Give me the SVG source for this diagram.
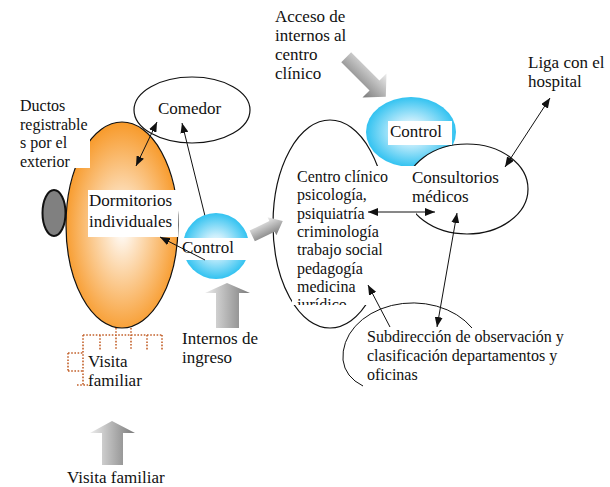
<svg xmlns="http://www.w3.org/2000/svg" width="610" height="487" viewBox="0 0 610 487" font-family="'Liberation Serif', 'DejaVu Serif', serif">
<style>
text{font-family:'Liberation Serif','DejaVu Serif',serif;font-size:17px;fill:#111}
.s16{font-size:16px}
.ln{stroke:#111;stroke-width:1;fill:none}
.ol{stroke:#111;stroke-width:1.2}
.dot{stroke:#c4622c;stroke-width:1.6;fill:none;stroke-dasharray:1.6 1.6}
.wb{fill:#fff}
</style>
<defs>
<marker id="ah" viewBox="0 0 10 8" refX="10" refY="4" markerWidth="10" markerHeight="8" markerUnits="userSpaceOnUse" orient="auto-start-reverse">
<path d="M0,0 L10,4 L0,8 z" fill="#111"/>
</marker>
<radialGradient id="gOr" cx="0.5" cy="0.52" r="0.55">
<stop offset="0" stop-color="#ffffff"/>
<stop offset="0.25" stop-color="#fde3c4"/>
<stop offset="1" stop-color="#f7941e"/>
</radialGradient>
<radialGradient id="gCy" cx="0.5" cy="0.5" r="0.55">
<stop offset="0" stop-color="#ffffff"/>
<stop offset="0.3" stop-color="#c9eefc"/>
<stop offset="1" stop-color="#1cbcef"/>
</radialGradient>
<linearGradient id="gGr" x1="0" y1="0" x2="1" y2="0">
<stop offset="0" stop-color="#ececec"/>
<stop offset="1" stop-color="#7a7a7a"/>
</linearGradient>
<clipPath id="cCentro"><rect x="290" y="160" width="130" height="145"/></clipPath>
</defs>

<!-- Left side -->
<g id="dormitorios">
<ellipse cx="122" cy="225" rx="56" ry="103" fill="url(#gOr)" class="ol"/>
</g>
<g id="ductos-shape">
<ellipse cx="54" cy="213" rx="11.5" ry="23" fill="#808080" stroke="#111" stroke-width="2"/>
</g>
<g id="ductos-label">
<rect x="17" y="94" width="73" height="74" class="wb"/>
<text class="s16" x="20" y="111">Ductos</text>
<text class="s16" x="20" y="129.5">registrable</text>
<text class="s16" x="20" y="148">s por el</text>
<text class="s16" x="20" y="166.5">exterior</text>
</g>
<g id="comedor">
<ellipse cx="192" cy="110" rx="58" ry="33" class="ol" fill="#fff"/>
<text x="158" y="114">Comedor</text>
</g>
<g id="dormitorios-label">
<rect x="88" y="190" width="90" height="47" class="wb"/>
<text x="89" y="206">Dormitorios</text>
<text x="89" y="227">individuales</text>
</g>
<g id="visita-grid">
<path class="dot" d="M83 335 H163 M83 335 V385 M100 335 V350 M116 328 V350 M131 328 V350 M147 335 V350 M162 335 V350 M68 353 H84 M68 353 V371 M68 371 H84 M77 385 H88"/>
<text x="88" y="367">Visita</text>
<text x="88" y="386">familiar</text>
</g>
<g id="visita-arrow">
<path d="M112 421 L135 433 L123 433 L123 465 L102 465 L102 433 L90 433 Z" fill="url(#gGr)"/>
<text x="67" y="483">Visita familiar</text>
</g>

<!-- Right side -->
<g id="centro">
<ellipse cx="330" cy="224" rx="57" ry="104" fill="none" class="ol"/>
</g>
<g id="control-right">
<ellipse cx="411" cy="132" rx="45" ry="35" fill="url(#gCy)"/>
</g>
<g id="consultorios">
<ellipse cx="467" cy="189" rx="61" ry="45" fill="#fff" class="ol"/>
</g>
<g id="control-right-label">
<rect x="388" y="121" width="64" height="24" class="wb"/>
<text x="390" y="137">Control</text>
</g>
<g id="centro-label">
<rect x="292" y="166" width="124" height="139" class="wb"/>
<g clip-path="url(#cCentro)">
<text class="s16" x="297" y="182">Centro clínico</text>
<text class="s16" x="297" y="200.3">psicología,</text>
<text class="s16" x="297" y="218.6">psiquiatría</text>
<text class="s16" x="297" y="236.9">criminología</text>
<text class="s16" x="297" y="255.2">trabajo social</text>
<text class="s16" x="297" y="273.5">pedagogía</text>
<text class="s16" x="297" y="291.8">medicina</text>
<text class="s16" x="297" y="310.1">jurídico</text>
</g>
</g>
<g id="consultorios-label">
<text x="412" y="183">Consultorios</text>
<text x="412" y="202">médicos</text>
</g>
<g id="subdireccion">
<path class="ln" d="M472 328 A70 54 0 0 0 343 360 Q345 377 363 386"/>
<text class="s16" x="367" y="342">Subdirección de observación y</text>
<text class="s16" x="367" y="361">clasificación departamentos y</text>
<text class="s16" x="367" y="380">oficinas</text>
</g>
<g id="hospital-label">
<text x="528" y="68">Liga con el</text>
<text x="528" y="87">hospital</text>
</g>
<g id="acceso">
<text x="275" y="22">Acceso de</text>
<text x="275" y="41">internos al</text>
<text x="275" y="60">centro</text>
<text x="275" y="79">clínico</text>
<g transform="translate(366 77) rotate(135)">
<path d="M0 -28 L17 -12 L7 -12 L7 28 L-7 28 L-7 -12 L-17 -12 Z" fill="url(#gGr)"/>
</g>
</g>

<!-- Connectors -->
<g id="connectors">
<line class="ln" x1="157" y1="122" x2="136" y2="166" marker-start="url(#ah)" marker-end="url(#ah)"/>
<line class="ln" x1="205" y1="216" x2="182" y2="123" marker-end="url(#ah)"/>
<line class="ln" x1="368" y1="212" x2="435" y2="212" marker-start="url(#ah)" marker-end="url(#ah)"/>
<line class="ln" x1="550" y1="98" x2="505" y2="167" marker-start="url(#ah)" marker-end="url(#ah)"/>
<line class="ln" x1="457" y1="213" x2="437" y2="327" marker-start="url(#ah)" marker-end="url(#ah)"/>
<line class="ln" x1="390" y1="327" x2="368" y2="285" marker-end="url(#ah)"/>
</g>

<g id="control-left">
<circle cx="216" cy="246" r="33" fill="url(#gCy)"/>
<rect x="180" y="238" width="71" height="22" class="wb"/>
<text x="182" y="253">Control</text>
<line class="ln" x1="205" y1="260" x2="160" y2="237" marker-end="url(#ah)"/>
</g>
<g id="ingreso">
<path d="M227 283 L250 293 L239 293 L239 328 L216 328 L216 293 L205 293 Z" fill="url(#gGr)"/>
<text x="182" y="344">Internos de</text>
<text x="182" y="363">ingreso</text>
</g>
<g id="to-centro-arrow" transform="translate(267.5 228.5) rotate(64)">
<path d="M0 -17 L10 -5 L6 -5 L6 17 L-6 17 L-6 -5 L-10 -5 Z" fill="url(#gGr)"/>
</g>
</svg>
